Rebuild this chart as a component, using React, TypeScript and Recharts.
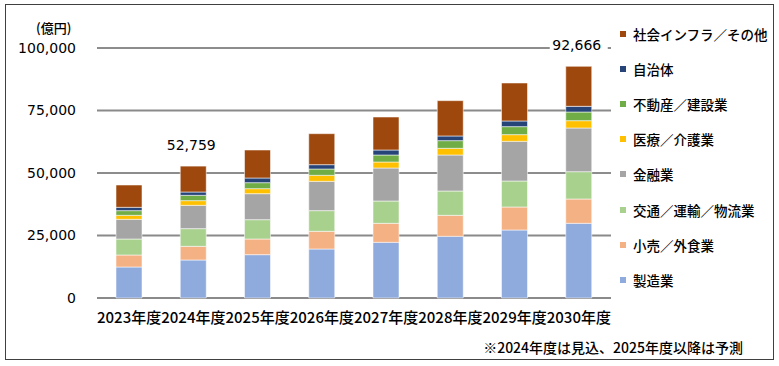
import React from "react";
import { BarChart, Bar, XAxis, YAxis, CartesianGrid, Legend, LabelList } from "recharts";

/* ─── Data (億円) ─────────────────────────── */
const years = ["2023年度", "2024年度", "2025年度", "2026年度", "2027年度", "2028年度", "2029年度", "2030年度"];

const manufacturing = [12400, 15200, 17330, 19600, 22270, 24670, 27200, 29870];
const retail        = [4800, 5470, 6270, 7070, 7600, 8400, 9200, 9730];
const transport     = [6400, 7070, 7730, 8270, 8930, 9730, 10400, 10930];
const finance       = [7870, 9330, 10400, 11730, 13200, 14400, 15870, 17470];
const medical       = [1600, 1870, 2000, 2400, 2400, 2670, 2670, 2930];
const realEstate    = [1870, 2130, 2400, 2530, 2800, 3070, 3200, 3470];
const municipal     = [1330, 1330, 1870, 1730, 2000, 1870, 2270, 2270];
const infra         = [8930, 10360, 11200, 12400, 13200, 14130, 15200, 15996];

const totalLabels: (number | null)[] = [null, 52759, null, null, null, null, null, 92666];

const yTicks = [0, 25000, 50000, 75000, 100000];
const grayGrid = [0, 25000, 75000];
const darkGrid = [50000, 100000];

// bottom of stack first
const series = [
  { key: "manufacturing", name: "製造業",             color: "#8FAADC", values: manufacturing },
  { key: "retail",        name: "小売／外食業",        color: "#F4B183", values: retail },
  { key: "transport",     name: "交通／運輸／物流業",   color: "#A9D18E", values: transport },
  { key: "finance",       name: "金融業",             color: "#A5A5A5", values: finance },
  { key: "medical",       name: "医療／介護業",        color: "#FFC000", values: medical },
  { key: "realEstate",    name: "不動産／建設業",      color: "#70AD47", values: realEstate },
  { key: "municipal",     name: "自治体",             color: "#264478", values: municipal },
  { key: "infra",         name: "社会インフラ／その他", color: "#9E480E", values: infra },
];

const data = years.map((year, i) => {
  const row: Record<string, string | number | null> = { year, totalLabel: totalLabels[i] };
  series.forEach((s) => { row[s.key] = s.values[i]; });
  return row;
});

const JP = "'Noto Sans CJK JP', 'Noto Sans', sans-serif";
const NUM = "'DejaVu Sans', Verdana, sans-serif";

const TotalLabel = (props: any) => {
  const { x, y, width, value } = props;
  if (value == null) return null;
  const cx = x + width / 2;
  return (
    <g>
      <rect x={cx - 29} y={y - 31} width={58} height={20} fill="#fff" />
      <text x={cx - 2} y={y - 21} textAnchor="middle" dominantBaseline="central" fontSize={14} fontFamily={NUM} fill="#000">
        {Number(value).toLocaleString()}
      </text>
    </g>
  );
};

const LegendBox = () => (
  <div style={{ fontFamily: JP, fontSize: 13.5, fontWeight: 500, color: "#000" }}>
    {[...series].reverse().map((s) => (
      <div key={s.key} style={{ display: "flex", alignItems: "center", height: 35.2 }}>
        <span style={{ width: 6, height: 6, background: s.color, marginRight: 7, display: "inline-block" }} />
        <span style={{ whiteSpace: "nowrap" }}>{s.name}</span>
      </div>
    ))}
  </div>
);

export default function App() {
  return (
    <div style={{ position: "absolute", left: 0, top: 0, width: 779, height: 366, background: "#fff" }}>
      <div style={{ position: "absolute", left: 5, top: 4, width: 767, height: 354, border: "1px solid #404040" }} />
      <div style={{ position: "absolute", left: 36, top: 18, fontFamily: JP, fontSize: 13, fontWeight: 500 }}>(億円)</div>
      <div style={{ position: "absolute", right: 779 - 743, top: 337, fontFamily: JP, fontSize: 14, fontWeight: 500, whiteSpace: "nowrap" }}>
        ※2024年度は見込、2025年度以降は予測
      </div>
      <div style={{ position: "absolute", left: 0, top: 0 }}>
        <BarChart width={779} height={366} data={data} margin={{ top: 48, right: 168, left: 0, bottom: 0 }}>
          <CartesianGrid vertical={false} horizontalValues={grayGrid} stroke="#8a8a8a" strokeWidth={2} />
          <CartesianGrid vertical={false} horizontalValues={darkGrid} stroke="#1a1a1a" strokeWidth={1} />
          <XAxis dataKey="year" interval={0} axisLine={false} tickLine={false} tickSize={0} tickMargin={14} height={68}
            tick={{ fontSize: 15, fill: "#000", fontFamily: JP, fontWeight: 500 }} />
          <YAxis domain={[0, 100000]} ticks={yTicks} width={97} axisLine={false} tickLine={false} tickSize={0} tickMargin={21}
            tickFormatter={(v) => v.toLocaleString()} tick={{ fontSize: 14, fill: "#000", fontFamily: NUM }} />
          <Legend layout="horizontal" verticalAlign="middle" align="center" content={<LegendBox />}
            wrapperStyle={{ left: 620, top: 16, width: 160 }} />
          {series.map((s, i) => (
            <Bar key={s.key} dataKey={s.key} name={s.name} stackId="a" fill={s.color} barSize={26}
              stroke="#ffffff" strokeWidth={0.75} strokeOpacity={0.7} isAnimationActive={false}>
              {i === series.length - 1 && <LabelList dataKey="totalLabel" content={<TotalLabel />} />}
            </Bar>
          ))}
        </BarChart>
      </div>
    </div>
  );
}
